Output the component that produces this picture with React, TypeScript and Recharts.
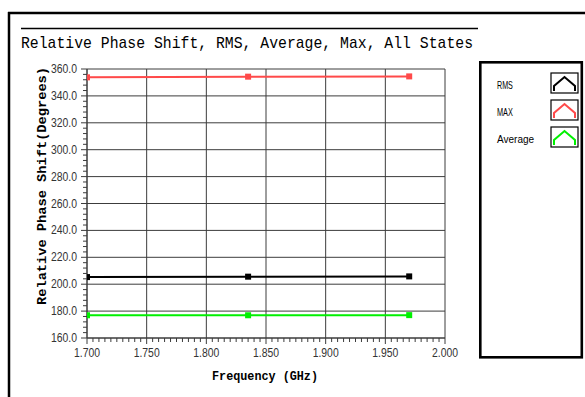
import React from 'react';
import { LineChart, Line, XAxis, YAxis, ReferenceLine } from 'recharts';

// Frequency points (GHz) and phase values (degrees)
const FREQUENCIES = [1.7, 1.835, 1.97];
const RMS_VALUES = [205.3, 205.6, 205.8];
const MAX_VALUES = [353.8, 354.3, 354.5];
const AVERAGE_VALUES = [176.9, 176.9, 177.0];

// Axis ticks
const X_MAJOR_TICKS = [1.7, 1.75, 1.8, 1.85, 1.9, 1.95, 2.0];
const Y_MAJOR_TICKS = [160, 180, 200, 220, 240, 260, 280, 300, 320, 340, 360];
const X_MINOR_STEP = 0.005;
const Y_MINOR_STEP = 4;

const SERIES = [
  { key: 'rms', name: 'RMS', color: '#000000', values: RMS_VALUES },
  { key: 'max', name: 'MAX', color: '#ff4a4a', values: MAX_VALUES },
  { key: 'avg', name: 'Average', color: '#00f000', values: AVERAGE_VALUES },
];

const GRID_COLOR = '#3c3c3c';
const TICK_FONT = '"Liberation Sans", Arial, sans-serif';
const MONO_FONT = '"Liberation Mono", "DejaVu Sans Mono", monospace';

const chartData = FREQUENCIES.map((f, i) => {
  const row: { [k: string]: number } = { freq: f };
  SERIES.forEach(s => {
    row[s.key] = s.values[i];
  });
  return row;
});

// minor ticks are laid out along each axis, majors fall on them too
const buildTicks = (min: number, max: number, step: number, digits: number) => {
  const out: number[] = [];
  const n = Math.round((max - min) / step);
  for (let i = 0; i <= n; i++) {
    out.push(Number((min + i * step).toFixed(digits)));
  }
  return out;
};

const xTicks = buildTicks(1.7, 2.0, X_MINOR_STEP, 3);
const yTicks = buildTicks(160, 360, Y_MINOR_STEP, 0);

const isMajor = (v: number, majors: number[]) => majors.some(m => Math.abs(m - v) < 1e-6);

const XTick = ({ x, y, payload }: any) => {
  const major = isMajor(payload.value, X_MAJOR_TICKS);
  return (
    <g>
      <line x1={x} y1={y} x2={x} y2={y + (major ? 6 : 4)} stroke={GRID_COLOR} strokeWidth={1} />
      {major && (
        <text
          x={x}
          y={y + 19}
          textAnchor="middle"
          fontFamily={TICK_FONT}
          fontSize={12}
          fill="#333"
          textLength={26}
          lengthAdjust="spacingAndGlyphs"
        >
          {payload.value.toFixed(3)}
        </text>
      )}
    </g>
  );
};

const YTick = ({ x, y, payload }: any) => {
  const major = isMajor(payload.value, Y_MAJOR_TICKS);
  return (
    <g>
      <line x1={x} y1={y} x2={x - (major ? 6 : 4)} y2={y} stroke={GRID_COLOR} strokeWidth={1} />
      {major && (
        <text
          x={x - 36}
          y={y + 4}
          textAnchor="start"
          fontFamily={TICK_FONT}
          fontSize={12}
          fill="#333"
          textLength={26}
          lengthAdjust="spacingAndGlyphs"
        >
          {payload.value.toFixed(1)}
        </text>
      )}
    </g>
  );
};

const SquareDot = (color: string) => (props: any) => {
  const { cx, cy, index } = props;
  if (cx == null || cy == null) return null;
  return <rect key={index} x={cx - 3} y={cy - 3} width={6} height={6} fill={color} />;
};

const LegendIcon = ({ x, y, color }: { x: number; y: number; color: string }) => (
  <g>
    <rect x={x} y={y} width={27} height={20} fill="#fff" stroke="#000" strokeWidth={1.2} />
    <polyline
      points={`${x + 3},${y + 18} ${x + 3},${y + 13} ${x + 13.5},${y + 4} ${x + 24},${y + 13} ${x + 24},${y + 18}`}
      fill="none"
      stroke={color}
      strokeWidth={2}
    />
  </g>
);

export default function App() {
  return (
    <div style={{ position: 'absolute', left: 0, top: 0, width: 585, height: 397, background: '#fff' }}>
      <LineChart
        width={585}
        height={397}
        data={chartData}
        margin={{ top: 69, right: 140, bottom: 29, left: 47 }}
      >
        <XAxis
          dataKey="freq"
          type="number"
          domain={[1.7, 2.0]}
          ticks={xTicks}
          interval={0}
          height={30}
          tickSize={0}
          tickMargin={0}
          tick={<XTick />}
          axisLine={{ stroke: GRID_COLOR }}
          allowDataOverflow
        />
        <YAxis
          type="number"
          domain={[160, 360]}
          ticks={yTicks}
          interval={0}
          width={40}
          tickSize={0}
          tickMargin={0}
          tick={<YTick />}
          axisLine={{ stroke: GRID_COLOR }}
          allowDataOverflow
        />
        {Y_MAJOR_TICKS.map(v => (
          <ReferenceLine key={`h${v}`} y={v} stroke={GRID_COLOR} strokeWidth={1} />
        ))}
        {X_MAJOR_TICKS.map(v => (
          <ReferenceLine key={`v${v}`} x={v} stroke={GRID_COLOR} strokeWidth={1} />
        ))}
        {SERIES.map(s => (
          <Line
            key={s.key}
            dataKey={s.key}
            name={s.name}
            type="linear"
            stroke={s.color}
            strokeWidth={2}
            dot={SquareDot(s.color)}
            activeDot={false}
            isAnimationActive={false}
          />
        ))}
      </LineChart>

      <svg
        width={585}
        height={397}
        style={{ position: 'absolute', left: 0, top: 0, pointerEvents: 'none' }}
      >
        {/* outer frame */}
        <line x1={8} y1={13} x2={585} y2={13} stroke="#000" strokeWidth={2.5} />
        <line x1={9} y1={12} x2={9} y2={397} stroke="#000" strokeWidth={2.5} />

        {/* title */}
        <line x1={21} y1={28.5} x2={478} y2={28.5} stroke="#000" strokeWidth={1.3} />
        <text
          x={21}
          y={48}
          fontFamily={MONO_FONT}
          fontSize={17}
          fill="#000"
          textLength={452}
          lengthAdjust="spacingAndGlyphs"
        >
          Relative Phase Shift, RMS, Average, Max, All States
        </text>

        {/* axis titles */}
        <text
          transform="translate(46, 186) rotate(-90)"
          textAnchor="middle"
          fontFamily={MONO_FONT}
          fontWeight="bold"
          fontSize={13}
          fill="#000"
          textLength={238}
          lengthAdjust="spacingAndGlyphs"
        >
          Relative Phase Shift(Degrees)
        </text>
        <text
          x={265}
          y={380}
          textAnchor="middle"
          fontFamily={MONO_FONT}
          fontWeight="bold"
          fontSize={12}
          fill="#000"
          textLength={106}
          lengthAdjust="spacingAndGlyphs"
        >
          Frequency (GHz)
        </text>

        {/* legend */}
        <rect x={480.3} y={62.3} width={101.5} height={295} fill="#fff" stroke="#000" strokeWidth={2.6} />
        {SERIES.map((s, i) => (
          <g key={s.key}>
            <text
              x={497}
              y={89 + i * 27}
              fontFamily={TICK_FONT}
              fontSize={11}
              fill="#000"
              textLength={s.name.length * 5.3}
              lengthAdjust="spacingAndGlyphs"
            >
              {s.name}
            </text>
            <LegendIcon x={551} y={73 + i * 27} color={s.color} />
          </g>
        ))}
      </svg>
    </div>
  );
}
